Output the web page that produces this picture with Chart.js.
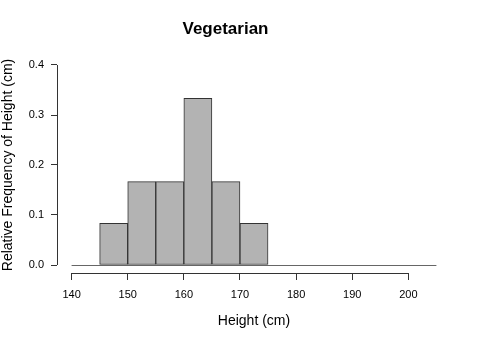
<!DOCTYPE html>
<html><head><meta charset="utf-8">
<script src="https://cdn.jsdelivr.net/npm/chart.js@4/dist/chart.umd.min.js"></script>
<style>html,body{margin:0;padding:0;background:#fff}#w{width:481px;height:344px}</style>
</head><body><div id="w"><canvas id="c"></canvas></div>
<script>
const chartTitle = "Vegetarian";
const xTitle = "Height (cm)";
const yTitle = "Relative Frequency of Height (cm)";
const binMids = [147.5, 152.5, 157.5, 162.5, 167.5, 172.5];
const relFreq = [0.0833, 0.1667, 0.1667, 0.3333, 0.1667, 0.0833];
const xTicks = [140, 150, 160, 170, 180, 190, 200];
const yTicks = [0.0, 0.1, 0.2, 0.3, 0.4];
const baselineRange = [140, 205];

const FONT = "'Liberation Sans', Arial, Helvetica, sans-serif";

const axisPlugin = {
  id: 'rAxes',
  afterDatasetsDraw(chart) {
    const {ctx, scales: {x, y}} = chart;
    ctx.save();
    ctx.strokeStyle = '#666';
    ctx.lineWidth = 1;
    const y0 = Math.round(y.getPixelForValue(0)) + 0.5;
    ctx.beginPath();
    ctx.moveTo(x.getPixelForValue(baselineRange[0]), y0);
    ctx.lineTo(x.getPixelForValue(baselineRange[1]), y0);
    ctx.stroke();
    ctx.strokeStyle = '#333';
    const xb = Math.round(chart.chartArea.bottom) + 0.5;
    ctx.beginPath();
    ctx.moveTo(x.getPixelForValue(xTicks[0]), xb);
    ctx.lineTo(x.getPixelForValue(xTicks[xTicks.length - 1]), xb);
    ctx.stroke();
    const yl = Math.round(chart.chartArea.left) + 0.5;
    ctx.beginPath();
    ctx.moveTo(yl, y.getPixelForValue(yTicks[0]));
    ctx.lineTo(yl, y.getPixelForValue(yTicks[yTicks.length - 1]));
    ctx.stroke();
    ctx.restore();
  }
};

new Chart(document.getElementById('c'), {
  type: 'bar',
  data: {
    datasets: [{
      data: binMids.map((m, i) => ({x: m, y: relFreq[i]})),
      backgroundColor: '#b3b3b3',
      borderColor: '#333',
      borderWidth: 1,
      borderSkipped: false,
      barPercentage: 1,
      categoryPercentage: 1
    }]
  },
  options: {
    responsive: true,
    maintainAspectRatio: false,
    animation: false,
    layout: {padding: {left: 0, right: 30, top: 0, bottom: 0}},
    plugins: {
      legend: {display: false},
      tooltip: {enabled: false},
      title: {
        display: true, text: chartTitle, color: '#000',
        font: {family: FONT, size: 17, weight: 'bold'},
        padding: {top: 19, bottom: 17.6}
      }
    },
    scales: {
      x: {
        type: 'linear', min: 137.4, max: 207.6, offset: false,
        border: {display: false},
        grid: {offset: false, drawOnChartArea: false, tickLength: 7, color: '#333', lineWidth: 1},
        afterBuildTicks: s => { s.ticks = xTicks.map(v => ({value: v})); },
        afterFit: s => { s.height = 71; s.paddingLeft = 0; s.paddingRight = 0; },
        ticks: {color: '#000', font: {family: FONT, size: 11}, padding: 8, maxRotation: 0,
                callback: v => String(v)},
        title: {display: true, text: xTitle, color: '#000', font: {family: FONT, size: 14},
                padding: {top: 0, bottom: 14}}
      },
      y: {
        type: 'linear', min: -0.016, max: 0.416,
        border: {display: false},
        grid: {drawOnChartArea: false, tickLength: 6, color: '#333', lineWidth: 1},
        afterBuildTicks: s => { s.ticks = yTicks.map(v => ({value: v})); },
        afterFit: s => { s.width = 57; s.paddingTop = 0; s.paddingBottom = 0; },
        ticks: {color: '#000', font: {family: FONT, size: 11}, padding: 7,
                callback: v => Number(v).toFixed(1)},
        title: {display: true, text: yTitle, color: '#000', font: {family: FONT, size: 14},
                padding: {top: 0, bottom: 0}}
      }
    }
  },
  plugins: [axisPlugin]
});
</script>
</body></html>
